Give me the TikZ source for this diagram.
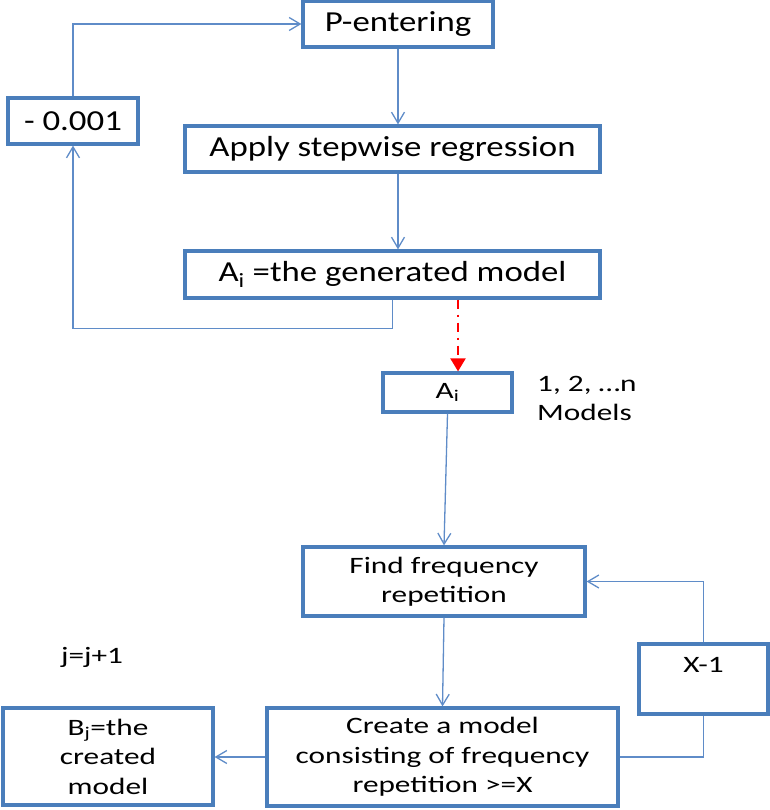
\documentclass[tikz,border=0pt]{standalone}
\usepackage{fontspec}
\setmainfont{Carlito}
\newfontfamily\upfont{Carlito}[FakeStretch=1.2]
\newfontfamily\lowfont{Carlito}[FakeStretch=1.33]
\usetikzlibrary{arrows.meta,calc}
\definecolor{boxblue}{RGB}{74,126,187}
\definecolor{linkblue}{RGB}{95,140,200}

\tikzset{
  box/.style={draw=boxblue, line width=3.2pt, inner sep=0pt, align=center, text=black},
  upbox/.style={box, font=\upfont\fontsize{29}{34}\selectfont},
  lowbox/.style={box, font=\lowfont\fontsize{23.5}{29.5}\selectfont},
  lowtext/.style={font=\lowfont\fontsize{23.5}{29.5}\selectfont, inner sep=0pt, text=black},
  link/.style={draw=linkblue, line width=1.3pt},
  arr/.style={link, -{Straight Barb[length=11pt,width=13pt]}},
  redarr/.style={draw=red, line width=2pt, dash pattern=on 9pt off 6pt on 2pt off 6pt,
    -{Triangle[length=13pt,width=15pt]}},
}

\begin{document}
\begin{tikzpicture}[x=1pt,y=-1pt]
\useasboundingbox (0,0) rectangle (769,810);

% upper loop: threshold search with stepwise regression
\node[upbox, minimum width=190pt, minimum height=46pt] (P) at (398,24) {P-entering};
\node[upbox, minimum width=130pt, minimum height=46pt] (M) at (73,121) {- 0.001};
\node[upbox, minimum width=415pt, minimum height=46pt] (Apply) at (392.5,149) {Apply stepwise regression};
\node[upbox, minimum width=415pt, minimum height=47pt] (Gen) at (392.5,274.5) {A\textsubscript{i} =the generated model};

% lower part: frequency based model building
\node[lowbox, minimum width=129pt, minimum height=39pt] (Ai) at (447.5,392.5) {A\textsubscript{i}};
\node[lowtext, anchor=north west, align=left] (count) at (537,376) {1, 2, \dots n\\Models};
\node[lowbox, minimum width=282pt, minimum height=69pt] (Find) at (444,581.5) {Find frequency\\repetition};
\node[lowbox, minimum width=129pt, minimum height=70pt, text height=15pt, text depth=29pt] (X) at (703.5,679) {X-1};
\node[lowbox, minimum width=351pt, minimum height=98pt] (Create) at (442.5,757) {Create a model\\consisting of frequency\\repetition >=X};
\node[lowbox, minimum width=210pt, minimum height=97pt] (Bj) at (108,756.5) {B\textsubscript{j}=the\\created\\model};
\node[lowtext] (jinc) at (92,657) {j=j+1};

\coordinate (rd) at (458,0);

% connectors
\draw[arr] (P.south) -- (P.south |- Apply.north);
\draw[arr] (P.south |- Apply.south) -- (P.south |- Gen.north);
\draw[arr] (Gen.south) -- ++(0,29) -| (M.south);
\draw[arr] (M.north) |- (P.west);
\draw[redarr] (Gen.south -| rd) -- (Ai.north -| rd);
\draw[arr] (Ai.south) -- (Find.north);
\draw[arr] (Find.south) -- (Create.north);
\draw[arr] (Create.west) -- (Create.west -| Bj.east);
\draw[link] (Create.east) -| (X.south);
\draw[arr] (X.north) |- (Find.east);
\end{tikzpicture}
\end{document}
